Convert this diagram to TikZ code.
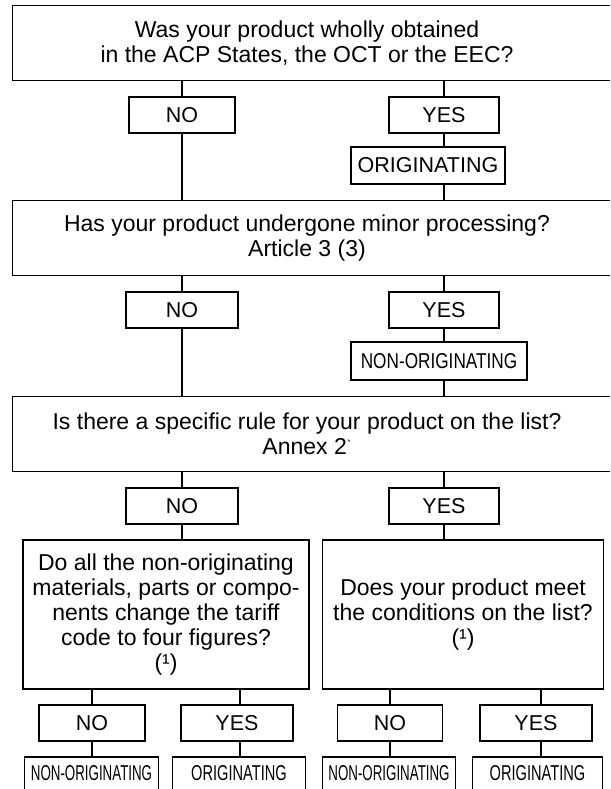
\documentclass[tikz,border=0pt]{standalone}
\usepackage{fontspec}
\setmainfont{Liberation Sans}
\usepackage{graphicx}
\newcommand\myq{\fontsize{23}{25}\selectfont}
\newcommand\myl{\fontsize{21.5}{22}\selectfont}
\newcommand\mycond[2]{\scalebox{#1}[1]{#2}}
\tikzset{
  qopen/.style={minimum height=74pt, inner sep=0pt, align=center, font=\myq},
  bigq/.style={draw, line width=1.3pt, minimum height=149pt, inner sep=0pt, align=center, font=\myq},
  lab/.style={draw, line width=1.3pt, minimum height=36pt, inner sep=0pt, font=\myl},
  res/.style={draw, line width=1.3pt, minimum height=37pt, inner sep=0pt, font=\myl},
  botres/.style={minimum height=32pt, inner sep=0pt, font=\myl},
  conn/.style={line width=1.1pt},
  edge/.style={line width=1.3pt}
}
\begin{document}
\begin{tikzpicture}[x=1pt,y=-1pt]
\useasboundingbox (0,0) rectangle (610,789);
\coordinate (E) at (610,0);
% question boxes open at the right
\node[qopen, minimum width=588pt] (q1) at (307,43) {Was your product wholly obtained\\in the ACP States, the OCT or the EEC?};
\draw[edge] (E |- q1.north) -- (q1.north west) -- (q1.south west) -- (E |- q1.south);
\node[lab, minimum width=106pt] (no1) at (182,115) {NO};
\node[lab, minimum width=110pt] (yes1) at (444,115) {YES};
\node[res, minimum width=154pt] (org1) at (428,165.5) {ORIGINATING};
\node[qopen, minimum width=588pt] (q2) at (307,238) {Has your product undergone minor processing?\\Article 3 (3)};
\draw[edge] (E |- q2.north) -- (q2.north west) -- (q2.south west) -- (E |- q2.south);
\node[lab, minimum width=112pt] (no2) at (182,310) {NO};
\node[lab, minimum width=110pt] (yes2) at (444,310) {YES};
\node[res, minimum width=176pt, minimum height=38pt] (non2) at (439,361) {\mycond{0.8}{NON-ORIGINATING}};
\node[qopen, minimum width=588pt] (q3) at (307,434) {Is there a specific rule for your product on the list?\\Annex 2\raisebox{0.35ex}{\fontsize{14}{14}\selectfont\textasciigrave}};
\draw[edge] (E |- q3.north) -- (q3.north west) -- (q3.south west) -- (E |- q3.south);
\node[lab, minimum width=112pt] (no3) at (182,506) {NO};
\node[lab, minimum width=110pt] (yes3) at (444,506) {YES};
\node[bigq, minimum width=286pt] (L) at (166,614.5) {Do all the non-originating\\materials, parts or compo-\\nents change the tariff\\code to four figures?\\(¹)};
\node[bigq, minimum width=281pt] (R) at (463,614.5) {Does your product meet\\the conditions on the list?\\(¹)};
\node[lab, minimum width=106pt] (no4) at (92,723) {NO};
\node[lab, minimum width=112pt] (yes4) at (237,723) {YES};
\node[lab, minimum width=105pt] (no5) at (390,723) {NO};
\node[lab, minimum width=112pt] (yes5) at (536,723) {YES};
\node[botres, minimum width=133pt, anchor=north] (r1) at (91.5,757) {\mycond{0.62}{NON-ORIGINATING}};
\node[botres, minimum width=132pt, anchor=north] (r2) at (239,757) {\mycond{0.68}{ORIGINATING}};
\node[botres, minimum width=132pt, anchor=north] (r3) at (389,757) {\mycond{0.62}{NON-ORIGINATING}};
\node[botres, minimum width=129pt, anchor=north] (r4) at (537.5,757) {\mycond{0.68}{ORIGINATING}};
\foreach \r in {r1,r2,r3,r4}{
  \draw[edge] (\r.south west) -- (\r.north west) -- (\r.north east) -- (\r.south east);
}
% connectors
\draw[conn] (q1.south -| no1) -- (no1);
\draw[conn] (q1.south -| yes1) -- (yes1);
\draw[conn] (no1) -- (q2.north -| no1);
\draw[conn] (yes1) -- (org1.north -| yes1);
\draw[conn] (org1.south -| yes1) -- (q2.north -| yes1);
\draw[conn] (q2.south -| no2) -- (no2);
\draw[conn] (q2.south -| yes2) -- (yes2);
\draw[conn] (no2) -- (q3.north -| no2);
\draw[conn] (yes2) -- (non2.north -| yes2);
\draw[conn] (non2.south -| yes2) -- (q3.north -| yes2);
\draw[conn] (q3.south -| no3) -- (no3);
\draw[conn] (q3.south -| yes3) -- (yes3);
\draw[conn] (no3) -- (L.north -| no3);
\draw[conn] (yes3) -- (R.north -| yes3);
\draw[conn] (L.south -| no4) -- (no4);
\draw[conn] (no4) -- (r1.north -| no4);
\draw[conn] (L.south -| yes4.north) ++(3,0) coordinate (c4) (c4) -- (yes4.north -| c4);
\draw[conn] (yes4.south -| c4) -- (r2.north -| c4);
\draw[conn] (R.south -| no5) -- (no5);
\draw[conn] (no5) -- (r3.north -| no5);
\draw[conn] (R.south -| yes5.north) ++(5,0) coordinate (c5) (c5) -- (yes5.north -| c5);
\draw[conn] (yes5.south -| c5) -- (r4.north -| c5);
\end{tikzpicture}
\end{document}
